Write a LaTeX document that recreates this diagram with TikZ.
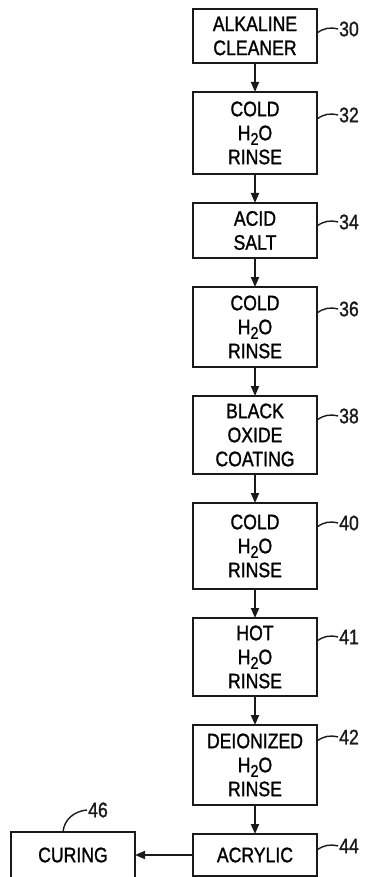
\documentclass[tikz,border=0pt]{standalone}
\usepackage{fontspec}
\setmainfont{Liberation Sans}[FakeStretch=0.84, FakeBold=1.2]
\usepackage{tikz}
\usetikzlibrary{positioning, arrows.meta}
\definecolor{InkBlack}{HTML}{1A1A1A}
\newcommand{\water}{H\raisebox{-0.22em}{\fontsize{17}{17}\selectfont 2}O}

\tikzset{
    stage/.style={draw=InkBlack, line width=1.8pt, minimum width=124pt, outer sep=0pt,
        align=center, inner sep=3pt, font=\fontsize{21}{24}\selectfont},
    tag/.style={inner sep=1pt, font=\fontsize{21}{24}\selectfont, text=InkBlack},
    leader/.style={draw=InkBlack, line width=1.4pt},
    flow/.style={draw=InkBlack, line width=1.8pt, -{Triangle[width=8pt,length=10pt]}}
}

\begin{document}
\begin{tikzpicture}[x=1pt, y=-1pt, node distance=29pt]
\useasboundingbox (0,0) rectangle (366,877);

\node[stage, minimum height=54pt] (b30) at (255,36) {ALKALINE\\CLEANER};
\node[stage, minimum height=82pt, below=of b30] (b32) {COLD\\\water\\RINSE};
\node[stage, minimum height=55pt, below=of b32] (b34) {ACID\\SALT};
\node[stage, minimum height=80pt, below=of b34] (b36) {COLD\\\water\\RINSE};
\node[stage, minimum height=78pt, below=of b36] (b38) {BLACK\\OXIDE\\COATING};
\node[stage, minimum height=86pt, below=of b38] (b40) {COLD\\\water\\RINSE};
\node[stage, minimum height=78pt, below=of b40] (b41) {HOT\\\water\\RINSE};
\node[stage, minimum height=80pt, below=of b41] (b42) {DEIONIZED\\\water\\RINSE};
\node[stage, minimum height=42pt, below=of b42] (b44) {ACRYLIC};
\node[stage, minimum height=46pt, left=58pt of b44] (b46) {CURING};

\foreach \a/\b in {b30/b32, b32/b34, b34/b36, b36/b38, b38/b40, b40/b41, b41/b42, b42/b44}
    \draw[flow] (\a) -- (\b);
\draw[flow] (b44) -- (b46);

\foreach \n/\dy in {30/24, 32/27, 34/23, 36/26, 38/24, 40/24, 41/23, 42/16, 44/16} {
    \coordinate (e\n) at ([yshift=-\dy pt]b\n.north east);
    \node[tag, anchor=west] (t\n) at ([shift={(21pt,4pt)}]e\n) {\n};
    \draw[leader] (e\n) to[bend left=25] (t\n.west);
}

\node[tag, anchor=west] (t46) at (87,810) {46};
\draw[leader] ([xshift=-10pt]b46.north) to[out=85, in=185] (t46.west);
\end{tikzpicture}
\end{document}
